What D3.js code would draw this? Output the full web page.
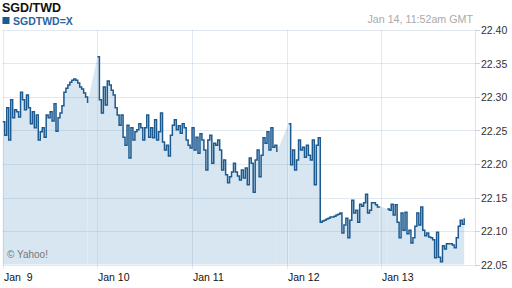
<!DOCTYPE html>
<html>
<head>
<meta charset="utf-8">
<script src="https://cdn.jsdelivr.net/npm/d3@7"></script>
<style>
    body { margin: 0; background: #fff; }
    svg { display: block; font-family: "Liberation Sans", Arial, sans-serif; }
</style>
</head>
<body>
<svg id="chart"></svg>
<script>
// series: one quote every 30 minutes from Jan 9 00:00 GMT, null = no quote (line breaks)
const startTime = "2013-01-09T00:00:00Z";
const stepMinutes = 30;
const rates = [
    22.263, 22.243, 22.284, 22.236, 22.296, 22.269, 22.281, 22.278, 22.270, 22.307,
    22.296, 22.281, 22.303, 22.284, 22.260, 22.278, 22.254, 22.273, 22.236, 22.248,
    22.254, 22.240, 22.273, 22.269, 22.278, 22.264, 22.290, 22.249, 22.269, 22.276,
    22.287, 22.307, 22.313, 22.318, 22.322, 22.325, 22.327, 22.325, 22.321, 22.315,
    22.312, 22.306, 22.300, 22.291, null, null, null, null, 22.360, 22.296,
    22.276, 22.315, 22.288, 22.324, 22.318, 22.310, 22.303, 22.284, 22.273, 22.258,
    22.273, 22.240, 22.228, 22.258, 22.209, 22.254, 22.236, 22.248, 22.251, 22.260,
    22.254, 22.236, 22.254, 22.273, 22.240, 22.254, 22.239, 22.266, 22.236, 22.248,
    22.276, 22.233, 22.221, 22.228, 22.212, 22.243, 22.258, 22.266, 22.251, 22.257,
    22.246, 22.260, 22.254, 22.236, 22.228, 22.224, 22.254, 22.221, 22.240, 22.216,
    22.245, 22.236, 22.221, 22.191, 22.236, 22.243, 22.201, 22.231, 22.228, 22.236,
    22.221, 22.191, 22.206, 22.184, 22.172, 22.181, 22.188, 22.201, 22.188, 22.182,
    22.176, 22.191, 22.179, 22.194, 22.169, 22.209, 22.201, 22.158, 22.206, 22.221,
    22.181, 22.213, 22.239, 22.231, 22.248, 22.221, 22.254, 22.225, 22.228, 22.218,
    null, null, null, null, null, 22.260, 22.199, 22.221, 22.191, 22.206,
    22.236, 22.221, 22.225, 22.210, 22.228, 22.213, 22.206, 22.236, 22.169, 22.228,
    22.239, 22.113, 22.115, 22.116, 22.118, 22.119, 22.121, 22.121, 22.122, 22.124,
    22.125, 22.127, 22.097, 22.109, 22.119, 22.090, 22.116, 22.146, 22.127, 22.131,
    22.113, 22.140, 22.137, 22.142, 22.155, 22.127, 22.131, 22.142, 22.142, 22.139,
    22.136, 22.137, null, null, null, 22.133, 22.131, 22.140, 22.124, 22.139,
    22.113, 22.090, 22.127, 22.101, 22.128, 22.096, 22.101, 22.082, 22.090, 22.107,
    22.127, 22.109, 22.136, 22.101, 22.093, 22.097, 22.091, 22.090, 22.087, 22.060,
    22.098, 22.061, 22.054, 22.078, 22.073, 22.081, 22.081, 22.081, 22.079, 22.075,
    22.090, 22.107, 22.116, 22.110, 22.119
];

const yTicks = [22.05, 22.10, 22.15, 22.20, 22.25, 22.30, 22.35, 22.40];
const dayDates = ["2013-01-09", "2013-01-10", "2013-01-11", "2013-01-12", "2013-01-13"];
const dayLabels = ["Jan  9", "Jan 10", "Jan 11", "Jan 12", "Jan 13"];

const title = "SGD/TWD";
const symbol = "SGDTWD=X";
const stamp = "Jan 14, 11:52am GMT";

const width = 512;
const height = 288;

let svg = d3.select("#chart")
    .attr("width", width)
    .attr("height", height);

let t0 = new Date(startTime);
let data = rates.map((v, i) => ({ t: new Date(t0.getTime() + i * stepMinutes * 60000), v: v }));

let scaleX = d3.scaleUtc()
    .domain([new Date("2013-01-09T00:00:00Z"), new Date("2013-01-14T00:00:00Z")])
    .range([2.8, 476]);

let scaleY = d3.scaleLinear()
    .domain([22.05, 22.40])
    .range([264.5, 30]);

let left = 2.5, right = 475;
let fillColor = "#d7e6f1";

// AREA (stepped where quotes exist, straight across the gaps)
let area = d3.area()
    .defined(d => d.v != null)
    .curve(d3.curveStepAfter)
    .x(d => scaleX(d.t))
    .y0(scaleY(22.05))
    .y1(d => scaleY(d.v));

svg.append("path")
    .datum(data)
    .attr("d", area)
    .attr("fill", fillColor);

let gaps = [];
data.forEach((d, i) => {
    if (d.v == null && i > 0 && data[i - 1].v != null) {
        let j = i;
        while (data[j].v == null) j++;
        gaps.push([data[i - 1], data[j]]);
    }
});

let gapArea = d3.area()
    .x(d => scaleX(d.t))
    .y0(scaleY(22.05))
    .y1(d => scaleY(d.v));

svg.append("g")
    .selectAll("path")
    .data(gaps)
    .enter()
    .append("path")
    .attr("d", gapArea)
    .attr("fill", fillColor);

// GRID (drawn over the fill, slightly transparent)
let gridColor = "rgba(110,145,180,0.2)";

svg.append("g")
    .selectAll("line")
    .data(yTicks)
    .enter()
    .append("line")
    .attr("x1", left)
    .attr("x2", right)
    .attr("y1", d => Math.round(scaleY(d)) + 0.5)
    .attr("y2", d => Math.round(scaleY(d)) + 0.5)
    .attr("stroke", gridColor);

svg.append("g")
    .selectAll("line")
    .data(dayDates)
    .enter()
    .append("line")
    .attr("x1", d => Math.round(scaleX(new Date(d + "T00:00:00Z"))) + 0.5)
    .attr("x2", d => Math.round(scaleX(new Date(d + "T00:00:00Z"))) + 0.5)
    .attr("y1", 30)
    .attr("y2", 269)
    .attr("stroke", gridColor);

// right axis line
svg.append("line")
    .attr("x1", right + 0.5).attr("x2", right + 0.5)
    .attr("y1", 30).attr("y2", 265)
    .attr("stroke", "#dfe3e7");

// LINE
let line = d3.line()
    .defined(d => d.v != null)
    .curve(d3.curveStepAfter)
    .x(d => scaleX(d.t))
    .y(d => scaleY(d.v));

svg.append("path")
    .datum(data)
    .attr("d", line)
    .attr("fill", "none")
    .attr("stroke", "#1d5a90")
    .attr("stroke-width", 1.5);

// Y AXIS (right)
let yAxis = svg.append("g");
yAxis.selectAll("line")
    .data(yTicks)
    .enter()
    .append("line")
    .attr("x1", right)
    .attr("x2", right + 5)
    .attr("y1", d => Math.round(scaleY(d)) + 0.5)
    .attr("y2", d => Math.round(scaleY(d)) + 0.5)
    .attr("stroke", "#cfd4d9");

yAxis.selectAll("text")
    .data(yTicks)
    .enter()
    .append("text")
    .attr("x", 481)
    .attr("y", d => scaleY(d) + 4)
    .text(d => d.toFixed(2))
    .style("fill", "#333")
    .style("font-size", "10.5px");

// X AXIS (bottom)
svg.append("g")
    .selectAll("text")
    .data(dayDates)
    .enter()
    .append("text")
    .attr("x", d => Math.round(scaleX(new Date(d + "T00:00:00Z"))) + 1)
    .attr("y", 281)
    .text((d, i) => dayLabels[i])
    .style("white-space", "pre")
    .style("fill", "#111")
    .style("font-size", "10.5px");

// HEADER
svg.append("text")
    .attr("x", 2)
    .attr("y", 12)
    .text(title)
    .style("font-weight", "bold")
    .style("font-size", "12.5px")
    .style("fill", "#111");

svg.append("rect")
    .attr("x", 2.5).attr("y", 17)
    .attr("width", 7).attr("height", 7)
    .attr("fill", "#1d5a90");

svg.append("text")
    .attr("x", 13)
    .attr("y", 24.5)
    .text(symbol)
    .style("font-weight", "bold")
    .style("font-size", "10.5px")
    .style("fill", "#2a64a0");

svg.append("text")
    .attr("x", 473)
    .attr("y", 23)
    .attr("text-anchor", "end")
    .text(stamp)
    .style("font-size", "10.7px")
    .style("fill", "#aaa");

svg.append("text")
    .attr("x", 7)
    .attr("y", 258)
    .text("\u00a9 Yahoo!")
    .style("font-size", "10px")
    .style("fill", "#777");
</script>
</body>
</html>
